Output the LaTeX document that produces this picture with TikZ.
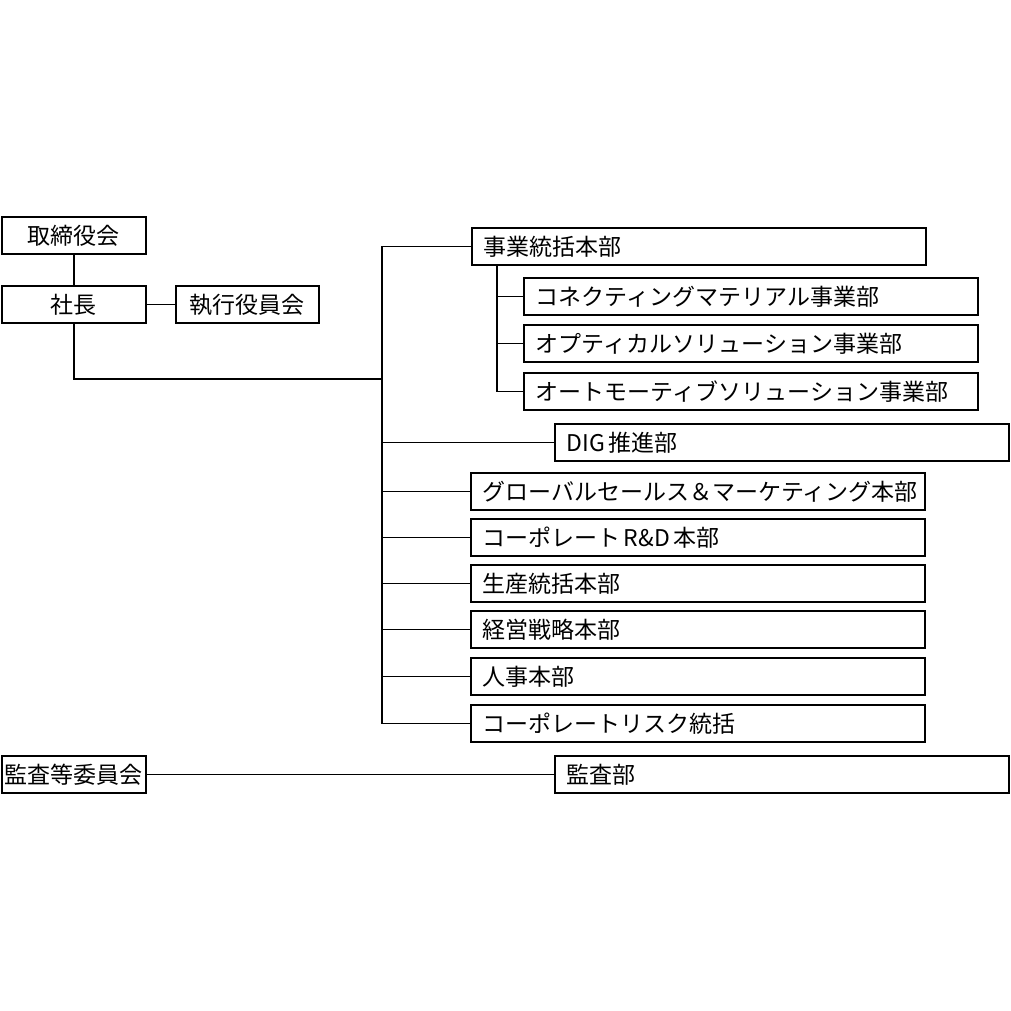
\documentclass[tikz,border=0pt]{standalone}
\usepackage{fontspec}
\newfontfamily\jp{Noto Sans CJK JP}
\newcommand{\hs}{\hspace{3pt}}
\begin{document}
\begin{tikzpicture}[x=1pt,y=-1pt,
  every node/.style={font=\jp\fontsize{23}{27}\selectfont},
  cbox/.style={draw, line width=1.9pt, anchor=north west, inner sep=0pt, minimum height=37pt, minimum width=#1},
  lbox/.style={draw, line width=1.9pt, anchor=north west, inner ysep=0pt, inner xsep=12pt, text width=430pt, align=left, minimum height=37pt},
  conn/.style={line width=1.9pt}]
\useasboundingbox (0,0) rectangle (1011,1011);
% left column
\node[cbox=144pt] (tori) at (1,216) {取締役会};
\node[cbox=144pt] (shacho) at (1,285) {社長};
\node[cbox=143pt] (shikko) at (175,285) {執行役員会};
\node[cbox=144pt] (kansa) at (1,755) {監査等委員会};
% right column
\node[lbox] (jigyo) at (471,227) {事業統括本部};
\node[lbox] (sub1) at (523,277) {コネクティングマテリアル事業部};
\node[lbox] (sub2) at (523,324) {オプティカルソリューション事業部};
\node[lbox] (sub3) at (523,372) {オートモーティブソリューション事業部};
\node[lbox] (dig) at (554,423) {DIG\hs 推進部};
\node[lbox] (gsm) at (470,472) {グローバルセールス＆マーケティング本部};
\node[lbox] (rd) at (470,518) {コーポレート\hs R\&D\hs 本部};
\node[lbox] (seisan) at (470,564) {生産統括本部};
\node[lbox] (keiei) at (470,610) {経営戦略本部};
\node[lbox] (jinji) at (470,657) {人事本部};
\node[lbox] (risk) at (470,704) {コーポレートリスク統括};
\node[lbox] (kansabu) at (554,755) {監査部};
% helper coordinates
\coordinate (tx) at (382,0);
\coordinate (sx) at (497,0);
\coordinate (join) at (382,379);
% connectors
\draw[conn] (tori.south) -- (shacho.north);
\draw[conn] (shacho.east) -- (shikko.west);
\draw[conn] (shacho.south) |- (join);
\draw[conn] (jigyo.west) -| (tx |- risk.west) -- (risk.west);
\foreach \n in {dig,gsm,rd,seisan,keiei,jinji}
  \draw[conn] (\n.west) -- (\n.west -| tx);
\draw[conn] (jigyo.south -| sx) |- (sub3.west);
\foreach \n in {sub1,sub2}
  \draw[conn] (\n.west) -- (\n.west -| sx);
\draw[conn] (kansa.east) -- (kansabu.west);
\end{tikzpicture}
\end{document}
